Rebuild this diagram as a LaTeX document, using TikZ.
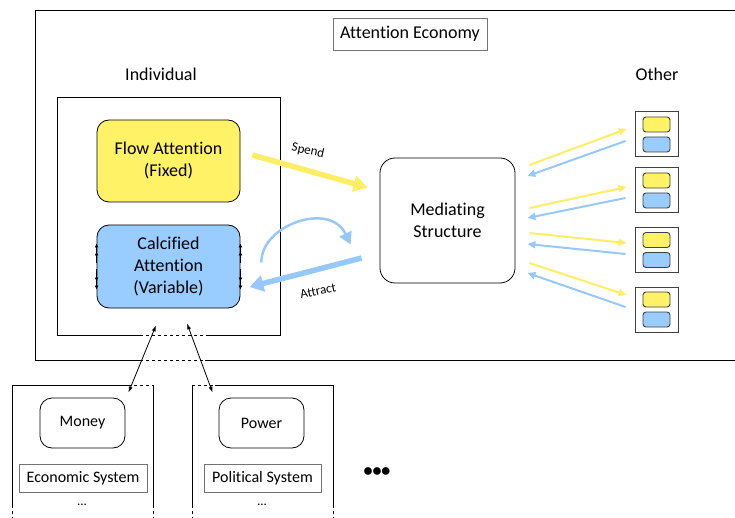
\documentclass[tikz,border=0pt]{standalone}
\usepackage{fontspec}
\setmainfont{Carlito}[Ligatures=NoCommon]
\usetikzlibrary{arrows.meta,calc}
\definecolor{flowyellow}{RGB}{255,242,102}
\definecolor{calcblue}{RGB}{153,204,255}
\definecolor{spendyellow}{RGB}{255,238,100}
\definecolor{attractblue}{RGB}{150,200,250}
\tikzset{
  frame/.style={line width=0.8pt},
  rbox/.style={draw, rounded corners=12pt, line width=0.8pt, align=center, inner sep=0pt,
    font=\fontsize{18}{22}\selectfont},
  tagbox/.style={draw=black!55, line width=0.7pt, inner sep=0pt, font=\fontsize{16}{18}\selectfont},
  otherframe/.style={draw=black!75, line width=1pt, minimum width=43pt, minimum height=45pt, inner sep=0pt},
  minibox/.style={draw=black!75, line width=0.9pt, rounded corners=3pt, minimum width=27pt, minimum height=15pt, inner sep=0pt},
  bigarrow/.style={line width=5.5pt, -{Triangle[length=14pt,width=16pt]}},
  thinarrow/.style={line width=2pt, -{Triangle[length=8pt,width=7pt]}},
  sidearrow/.style={line width=0.8pt, -{Latex[length=4pt,width=4pt,sep=4pt]Latex[length=4pt,width=4pt]}},
  linkarrow/.style={line width=0.8pt, {Latex[length=6pt,width=4pt]}-{Latex[length=6pt,width=4pt]}},
  verb/.style={font=\fontsize{13}{15}\selectfont}
}
\begin{document}
\begin{tikzpicture}[x=1pt,y=-1pt]
  \useasboundingbox (0,0) rectangle (735,518);
  % Attention economy frame
  \draw[frame] (735,10) -- (35,10) -- (35,360) -- (140,360);
  \draw[frame, dashed] (140,360) -- (205,360);
  \draw[frame] (205,360) -- (735,360);
  \node[tagbox, font=\fontsize{18}{20}\selectfont, minimum width=154pt, minimum height=32pt] (economy) at (410,34) {Attention Economy};
  % Labels
  \node[font=\fontsize{18}{20}\selectfont] (individual) at (161,74) {Individual};
  \node[font=\fontsize{18}{20}\selectfont] (other) at (657,74) {Other};
  % Individual frame
  \draw[frame] (140,335) -- (57,335) -- (57,97) -- (280,97) -- (280,335) -- (207,335);
  \draw[frame, dashed] (140,335) -- (207,335);
  % Attention boxes
  \node[rbox, fill=flowyellow, minimum width=143pt, minimum height=82pt] (flow) at (168.5,161) {Flow Attention\\(Fixed)};
  \node[rbox, fill=calcblue, minimum width=143pt, minimum height=83pt] (calc) at (168.5,266.5) {Calcified\\Attention\\(Variable)};
  \foreach \side in {west,east} {
    \draw[sidearrow] ($(calc.\side)+(0,-3)$) -- ($(calc.\side)+(0,-23)$);
    \draw[sidearrow] ($(calc.\side)+(0,3)$) -- ($(calc.\side)+(0,23)$);
  }
  % Mediating structure
  \node[rbox, rounded corners=15pt, fill=white, minimum width=135pt, minimum height=125pt] (med) at (447.5,220.5) {Mediating\\Structure};
  % Spend / Attract
  \draw[bigarrow, spendyellow] ($(flow.east)+(12,-6)$) -- ($(med.west)+(-12,-33)$);
  \node[verb, rotate=-12] (spend) at (308,151) {Spend};
  \draw[bigarrow, attractblue] ($(med.west)+(-18,37.5)$) -- ($(calc.east)+(9,20.5)$);
  \node[verb, rotate=12] (attract) at (318,291) {Attract};
  \draw[line width=2.5pt, attractblue, -{Triangle[length=12pt,width=13pt]}]
    ($(calc.east)+(21,-4)$) .. controls ($(calc.east)+(20,-41)$) and ($(med.west)+(-50,-20)$) .. ($(med.west)+(-29,24)$);
  % Other individuals
  \foreach \i/\y in {1/134.5,2/190.5,3/250,4/309.5} {
    \node[otherframe] (o\i) at (656.5,\y) {};
    \node[minibox, fill=flowyellow] (oy\i) at (656.5,\y-10) {};
    \node[minibox, fill=calcblue] (ob\i) at (656.5,\y+10) {};
  }
  \foreach \i/\ys/\ye/\bs/\be in {1/-55.5/-5.5/6.5/-44.5, 2/-12.5/-3.5/7.5/-2.5, 3/12.5/-7/4/23.5, 4/42.5/-14.5/-2.5/52.5} {
    \draw[thinarrow, spendyellow] ($(med.east)+(14,\ys)$) -- ($(o\i.west)+(-8,\ye)$);
    \draw[thinarrow, attractblue] ($(o\i.west)+(-9,\bs)$) -- ($(med.east)+(12,\be)$);
  }
  % Economic system
  \draw[frame] (128,385) -- (12,385) -- (12,505);
  \draw[frame, dashed] (128,385) -- (153,385);
  \draw[frame] (153,385) -- (153,505);
  \draw[frame, dashed] (12,505) -- (12,518) (153,505) -- (153,518);
  \node[rbox, font=\fontsize{16}{18}\selectfont, minimum width=85pt, minimum height=50pt] (money) at (82.5,423) {Money};
  \node[tagbox, minimum width=128pt, minimum height=28pt] (econ) at (83,478) {Economic System};
  \node[font=\fontsize{13}{14}\selectfont] (edots) at (82,505) {...};
  % Political system
  \draw[frame, dashed] (192,385) -- (215,385);
  \draw[frame] (215,385) -- (333,385) -- (333,505);
  \draw[frame] (192,385) -- (192,505);
  \draw[frame, dashed] (192,505) -- (192,518) (333,505) -- (333,518);
  \node[rbox, font=\fontsize{16}{18}\selectfont, minimum width=85pt, minimum height=50pt] (power) at (261.5,423) {Power};
  \node[tagbox, minimum width=117pt, minimum height=28pt] (polit) at (262.5,478) {Political System};
  \node[font=\fontsize{13}{14}\selectfont] (pdots) at (262,505) {...};
  \node[font=\fontsize{18}{20}\selectfont\bfseries] (more) at (377,472) {\textbullet\textbullet\textbullet};
  % Links
  \draw[linkarrow] ($(calc.south)+(-12.5,17)$) -- ($(money.north east)+(3,-5)$);
  \draw[linkarrow] ($(calc.south)+(18.5,15)$) -- ($(power.north west)+(-6,-5)$);
\end{tikzpicture}
\end{document}
